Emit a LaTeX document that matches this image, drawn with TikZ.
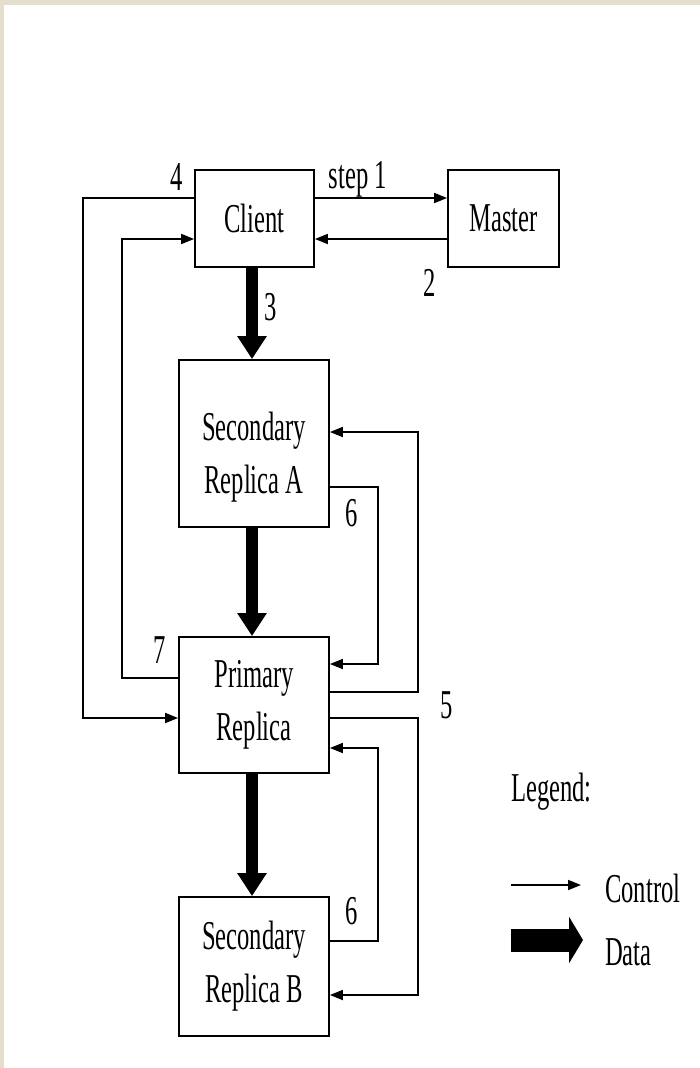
\documentclass[tikz,border=0pt]{standalone}
\usepackage{fontspec}
\setmainfont{Liberation Serif}[FakeStretch=0.6]
\usepackage{tikz}
\usetikzlibrary{arrows.meta,positioning,calc}
\definecolor{slideframe}{HTML}{E6DECD}

\begin{document}
\begin{tikzpicture}[x=1pt, y=-1pt,
  font=\fontsize{41}{53}\selectfont,
  box/.style={draw, line width=1.8pt, inner sep=0pt, align=center},
  tag/.style={inner sep=0pt},
  ctrl/.style={line width=1.8pt, -{Triangle[length=13pt,width=10pt]}},
  data/.style={line width=11.5pt, -{Triangle[length=23pt,width=28pt]}}]

  % slide background
  \fill[slideframe] (0,0) rectangle (700,1068);
  \fill[white] (4,5) rectangle (700,1068);

  \node[box, minimum width=119pt, minimum height=97pt] (client) at (254.5,218.5) {Client};
  \node[box, minimum width=111pt, minimum height=97pt] (master) at (503.5,218.5) {Master};
  \node[box, minimum width=150pt, minimum height=167pt] (secA) at (254,443.5) {};
  \node[align=center] (secAtext) at ([yshift=-14pt]secA.center) {Secondary\\Replica A};
  \node[box, minimum width=150pt, minimum height=136pt] (primary) at (254,705) {Primary\\Replica};
  \node[box, minimum width=150pt, minimum height=139pt] (secB) at (254,966.5) {Secondary\\Replica B};

  % control flow
  \draw[ctrl] ([yshift=20.5pt]client.east) -- ([yshift=20.5pt]master.west);
  \draw[ctrl] ([yshift=-20.5pt]master.west) -- ([yshift=-20.5pt]client.east);
  \draw[ctrl] ([yshift=20.5pt]client.west) -- ++(-111,0) |- ([yshift=-13pt]primary.west);
  \draw[ctrl] ([yshift=27pt]primary.west) -- ++(-56,0) |- ([yshift=-20.5pt]client.west);
  \draw[ctrl] ([yshift=13pt]primary.east) -- ++(88,0) |- ([yshift=11.5pt]secA.east);
  \draw[ctrl] ([yshift=-43.5pt]secA.east) -- ++(48,0) |- ([yshift=41pt]primary.east);
  \draw[ctrl] ([yshift=-13pt]primary.east) -- ++(88,0) |- ([yshift=-28.5pt]secB.east);
  \draw[ctrl] ([yshift=25.5pt]secB.east) -- ++(48,0) |- ([yshift=-43pt]primary.east);

  % data flow
  \draw[data] ([xshift=-2.5pt]client.south) -- ([xshift=-2pt]secA.north);
  \draw[data] ([xshift=-2pt]secA.south) -- ([xshift=-2pt]primary.north);
  \draw[data] ([xshift=-2pt]primary.south) -- ([xshift=-2pt]secB.north);

  % step numbers
  \node[tag] (step1) at (358,179) {step 1};
  \node[tag] (n2) at (430,283) {2};
  \node[tag] (n3) at (271,307) {3};
  \node[tag] (n4) at (177,177) {4};
  \node[tag] (n5) at (447,705) {5};
  \node[tag] (n6a) at (352,513) {6};
  \node[tag] (n6b) at (352,911) {6};
  \node[tag] (n7) at (160,650) {7};

  % legend
  \node[tag, anchor=west] (legend) at (511,792) {Legend:};
  \coordinate (ctrlL) at (511,885);
  \coordinate (ctrlR) at (581,885);
  \draw[ctrl] (ctrlL) -- (ctrlR);
  \node[tag, anchor=west] (ctrltext) at (605,888) {Control};
  \coordinate (dataL) at (511,940);
  \coordinate (dataR) at (583,940);
  \draw[line width=23pt, -{Triangle[length=14pt,width=46pt]}] (dataL) -- (dataR);
  \node[tag, anchor=west] (datatext) at (605,952) {Data};
\end{tikzpicture}
\end{document}
